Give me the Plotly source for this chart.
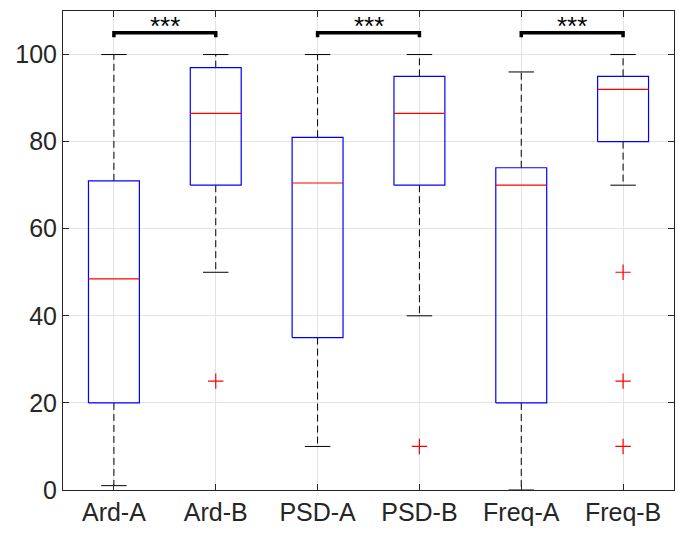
import plotly.graph_objects as go

categories = ["Ard-A", "Ard-B", "PSD-A", "PSD-B", "Freq-A", "Freq-B"]
lower_whisker = [1, 50, 10, 40, 0, 70]
q1 = [20, 70, 35, 70, 20, 80]
median = [48.5, 86.5, 70.5, 86.5, 70, 92]
q3 = [71, 97, 81, 95, 74, 95]
upper_whisker = [100, 100, 100, 100, 96, 100]
outliers = [[], [25], [], [10], [], [50, 25, 10]]
sig_pairs = [(1, 2), (3, 4), (5, 6)]
sig_labels = ["***", "***", "***"]
y_ticks = [0, 20, 40, 60, 80, 100]

BOX_HW = 0.25
CAP_HW = 0.125
TXT = "#262626"
FONT = "Liberation Sans, Arial"

fig = go.Figure()

for i, name in enumerate(categories):
    x = i + 1
    fig.add_trace(go.Scatter(x=[x, x, None, x, x],
                             y=[q3[i], upper_whisker[i], None, q1[i], lower_whisker[i]],
                             mode="lines", line=dict(color="black", width=1, dash="7px,4px"),
                             hoverinfo="skip", showlegend=False))
    fig.add_trace(go.Scatter(x=[x - CAP_HW, x + CAP_HW, None, x - CAP_HW, x + CAP_HW],
                             y=[upper_whisker[i], upper_whisker[i], None, lower_whisker[i], lower_whisker[i]],
                             mode="lines", line=dict(color="black", width=1),
                             hoverinfo="skip", showlegend=False))
    fig.add_trace(go.Scatter(x=[x - BOX_HW, x + BOX_HW, x + BOX_HW, x - BOX_HW, x - BOX_HW],
                             y=[q1[i], q1[i], q3[i], q3[i], q1[i]],
                             mode="lines", line=dict(color="#0000ff", width=1.2),
                             hoverinfo="skip", showlegend=False))
    fig.add_trace(go.Scatter(x=[x - BOX_HW, x + BOX_HW], y=[median[i], median[i]],
                             mode="lines", line=dict(color="#ff0000", width=1.2),
                             hoverinfo="skip", showlegend=False))
    if outliers[i]:
        fig.add_trace(go.Scatter(x=[x] * len(outliers[i]), y=outliers[i], mode="markers",
                                 marker=dict(symbol="cross-thin", size=11,
                                             line=dict(color="#ff0000", width=1.2)),
                                 hoverinfo="skip", showlegend=False))

for (a, b), lab in zip(sig_pairs, sig_labels):
    fig.add_trace(go.Scatter(x=[a, a, b, b], y=[104, 105, 105, 104], mode="lines",
                             line=dict(color="black", width=3.5),
                             hoverinfo="skip", showlegend=False))
    fig.add_annotation(x=(a + b) / 2, y=102.6, text=lab, showarrow=False,
                       yanchor="bottom", font=dict(size=26, color="black", family=FONT))

axis_common = dict(showline=True, linecolor=TXT, linewidth=1, mirror="ticks",
                   ticks="inside", ticklen=6, tickcolor=TXT,
                   showgrid=True, gridcolor="#e3e3e3", gridwidth=1, zeroline=False,
                   tickfont=dict(size=25, color=TXT, family=FONT))

fig.update_xaxes(range=[0.5, 6.5], tickmode="array", tickvals=list(range(1, 7)),
                 ticktext=categories, **axis_common)
fig.update_yaxes(range=[0, 110], tickmode="array", tickvals=y_ticks,
                 ticktext=[str(v) for v in y_ticks], **axis_common)

fig.update_layout(width=678, height=534, plot_bgcolor="white", paper_bgcolor="white",
                  margin=dict(l=63, r=4, t=11, b=44), showlegend=False)

fig.write_html("out.html", config={"displayModeBar": False},
               post_script="document.body.style.margin='0';")
